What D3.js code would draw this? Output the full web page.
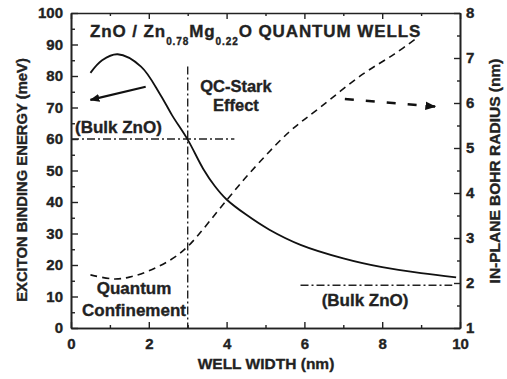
<!DOCTYPE html>
<html>
<head>
<meta charset="utf-8">
<script src="https://cdn.jsdelivr.net/npm/d3@7"></script>
<style>
  body { margin: 0; background: #fff; }
  text { font-family: "Liberation Sans", Arial, sans-serif; font-weight: bold; fill: #222; stroke: #222; stroke-width: 0.35px; }
</style>
</head>
<body>
<svg width="507" height="379"></svg>
<script>
// exciton binding energy (meV) vs well width (nm)
const energyWidth = [0.5, 0.8, 1.2, 1.8, 2.3, 2.6, 3.0, 3.4, 3.7, 4.0, 4.5, 5.1, 5.9, 7.0, 8.0, 9.0, 9.9];
const energyValue = [81, 85, 86.9, 83, 74, 67.5, 59.8, 50.5, 45, 40.8, 36, 31.2, 26.4, 22.1, 19.3, 17.4, 16.1];
// in-plane Bohr radius (nm) vs well width (nm)
const radiusWidth = [0.5, 1.1, 1.5, 2.0, 2.55, 3.0, 4.0, 4.6, 5.6, 6.4, 7.5, 8.3, 8.9];
const radiusValue = [2.18, 2.09, 2.13, 2.27, 2.51, 2.81, 3.84, 4.45, 5.35, 5.9, 6.64, 7.08, 7.45];

const xTicks = [0, 2, 4, 6, 8, 10];
const yLeftTicks = [0, 10, 20, 30, 40, 50, 60, 70, 80, 90, 100];
const yRightTicks = [1, 2, 3, 4, 5, 6, 7, 8];

const bulkEnergy = 60;
const bulkRadius = 1.95;
const boundaryWidth = 3;

const width = 507;
const height = 379;
const margin = {left: 71, right: 47, top: 13, bottom: 51};

const svg = d3.select('svg');

const xScale = d3.scaleLinear()
                  .domain([0, 10])
                  .range([margin.left, width - margin.right]);
const yScale = d3.scaleLinear()
                  .domain([0, 100])
                  .range([height - margin.bottom, margin.top]);
const yRScale = d3.scaleLinear()
                  .domain([1, 8])
                  .range([height - margin.bottom, margin.top]);

const x0 = margin.left, x1 = width - margin.right;
const y0 = height - margin.bottom, y1 = margin.top;

// marker for the two arrows
svg.append('defs')
  .append('marker')
    .attr('id', 'head')
    .attr('viewBox', '0 0 10 10')
    .attr('refX', 9).attr('refY', 5)
    .attr('markerWidth', 4.5).attr('markerHeight', 4.5)
    .attr('markerUnits', 'strokeWidth')
    .attr('orient', 'auto')
  .append('path')
    .attr('d', 'M0,1 L10,5 L0,9 Z')
    .attr('fill', '#111');

// axes: ticks point inward
function styleAxis(g) {
  g.selectAll('path.domain').attr('stroke', '#222').attr('stroke-width', 1.6);
  g.selectAll('.tick line').attr('stroke', '#222').attr('stroke-width', 1.4);
  g.selectAll('text')
      .attr('font-size', 15)
      .attr('font-family', '"Liberation Sans", Arial, sans-serif')
      .attr('font-weight', 'bold')
      .attr('fill', '#222');
}

svg.append('g')
    .attr('transform', 'translate(0,' + y0 + ')')
    .call(d3.axisBottom(xScale).tickValues(xTicks).tickFormat(d3.format('d'))
            .tickSizeInner(-6).tickSizeOuter(0).tickPadding(10))
    .call(styleAxis);
svg.append('g')
    .attr('transform', 'translate(0,' + y0 + ')')
    .call(d3.axisBottom(xScale).tickValues([1, 3, 5, 7, 9]).tickFormat('')
            .tickSizeInner(-3).tickSizeOuter(0))
    .call(styleAxis);
svg.append('g')
    .attr('transform', 'translate(0,' + y1 + ')')
    .call(d3.axisTop(xScale).tickValues(d3.range(0, 11)).tickFormat('')
            .tickSizeInner(-4).tickSizeOuter(0))
    .call(styleAxis)
    .call(g => g.selectAll('.tick line').attr('y2', d => d % 2 ? 3 : 6));

svg.append('g')
    .attr('transform', 'translate(' + x0 + ',0)')
    .call(d3.axisLeft(yScale).tickValues(yLeftTicks)
            .tickSizeInner(-7).tickSizeOuter(0).tickPadding(8))
    .call(styleAxis);
svg.append('g')
    .attr('transform', 'translate(' + x0 + ',0)')
    .call(d3.axisLeft(yScale).tickValues(d3.range(5, 100, 10)).tickFormat('')
            .tickSizeInner(-4).tickSizeOuter(0))
    .call(styleAxis);

svg.append('g')
    .attr('transform', 'translate(' + x1 + ',0)')
    .call(d3.axisRight(yRScale).tickValues(yRightTicks).tickFormat(d3.format('d'))
            .tickSizeInner(-6).tickSizeOuter(0).tickPadding(6))
    .call(styleAxis);
svg.append('g')
    .attr('transform', 'translate(' + x1 + ',0)')
    .call(d3.axisRight(yRScale).tickValues(d3.range(1.5, 8, 1)).tickFormat('')
            .tickSizeInner(-3).tickSizeOuter(0))
    .call(styleAxis);

// reference lines (dash-dot)
const dashDot = '8,3,2,3';
svg.append('line')
    .attr('x1', xScale(0)).attr('x2', xScale(4.2))
    .attr('y1', yScale(bulkEnergy)).attr('y2', yScale(bulkEnergy))
    .attr('stroke', '#222').attr('stroke-width', 1.4)
    .attr('stroke-dasharray', dashDot);
svg.append('line')
    .attr('x1', xScale(boundaryWidth)).attr('x2', xScale(boundaryWidth))
    .attr('y1', yScale(83)).attr('y2', yScale(0))
    .attr('stroke', '#222').attr('stroke-width', 1.4)
    .attr('stroke-dasharray', dashDot);
svg.append('line')
    .attr('x1', xScale(5.9)).attr('x2', xScale(9.8))
    .attr('y1', yRScale(bulkRadius)).attr('y2', yRScale(bulkRadius))
    .attr('stroke', '#222').attr('stroke-width', 1.4)
    .attr('stroke-dasharray', dashDot);

// curves
const energyLine = d3.line()
    .x(i => xScale(energyWidth[i]))
    .y(i => yScale(energyValue[i]))
    .curve(d3.curveCatmullRom.alpha(0.5));
const radiusLine = d3.line()
    .x(i => xScale(radiusWidth[i]))
    .y(i => yRScale(radiusValue[i]))
    .curve(d3.curveCatmullRom.alpha(0.5));

svg.append('path')
    .attr('d', energyLine(d3.range(energyWidth.length)))
    .attr('fill', 'none')
    .attr('stroke', '#111')
    .attr('stroke-width', 1.8);
svg.append('path')
    .attr('d', radiusLine(d3.range(radiusWidth.length)))
    .attr('fill', 'none')
    .attr('stroke', '#111')
    .attr('stroke-width', 1.6)
    .attr('stroke-dasharray', '7,5');

// arrows pointing to each axis
svg.append('line')
    .attr('x1', xScale(1.92)).attr('y1', yScale(76.6))
    .attr('x2', xScale(0.5)).attr('y2', yScale(72.4))
    .attr('stroke', '#111').attr('stroke-width', 2.2)
    .attr('marker-end', 'url(#head)');
svg.append('line')
    .attr('x1', xScale(7.04)).attr('y1', yScale(72.7))
    .attr('x2', xScale(9.36)).attr('y2', yScale(70.3))
    .attr('stroke', '#111').attr('stroke-width', 2.4)
    .attr('stroke-dasharray', '9,12')
    .attr('marker-end', 'url(#head)');

// annotations
const title = svg.append('text')
    .attr('x', 90).attr('y', 37)
    .attr('font-size', 17)
    .attr('letter-spacing', 0.9);
title.append('tspan').text('ZnO / Zn');
title.append('tspan').attr('font-size', 10).attr('dy', 8).text('0.78');
title.append('tspan').attr('dy', -8).text('Mg');
title.append('tspan').attr('font-size', 10).attr('dy', 8).text('0.22');
title.append('tspan').attr('dy', -8).text('O QUANTUM WELLS');

function note(txt, x, y, anchor, size) {
  svg.append('text')
      .attr('x', x).attr('y', y)
      .attr('text-anchor', anchor)
      .attr('font-size', size)
      .text(txt);
}
note('QC-Stark', xScale(4.24), 92, 'middle', 16.5);
note('Effect', xScale(4.24), 111, 'middle', 16.5);
note('(Bulk ZnO)', 75, 133, 'start', 17);
note('Quantum', xScale(1.62), 294, 'middle', 17);
note('Confinement', xScale(1.62), 316, 'middle', 17);
note('(Bulk ZnO)', xScale(7.56), 306, 'middle', 17);

// axis titles
svg.append('text')
    .attr('x', 266).attr('y', 369)
    .attr('text-anchor', 'middle')
    .attr('font-size', 15.5)
    .text('WELL WIDTH (nm)');
svg.append('text')
    .attr('transform', 'rotate(-90)')
    .attr('x', -180).attr('y', 27)
    .attr('text-anchor', 'middle')
    .attr('font-size', 14.8)
    .text('EXCITON BINDING ENERGY (meV)');
svg.append('text')
    .attr('transform', 'rotate(-90)')
    .attr('x', -171).attr('y', 500)
    .attr('text-anchor', 'middle')
    .attr('font-size', 15.5)
    .text('IN-PLANE BOHR RADIUS (nm)');
</script>
</body>
</html>
